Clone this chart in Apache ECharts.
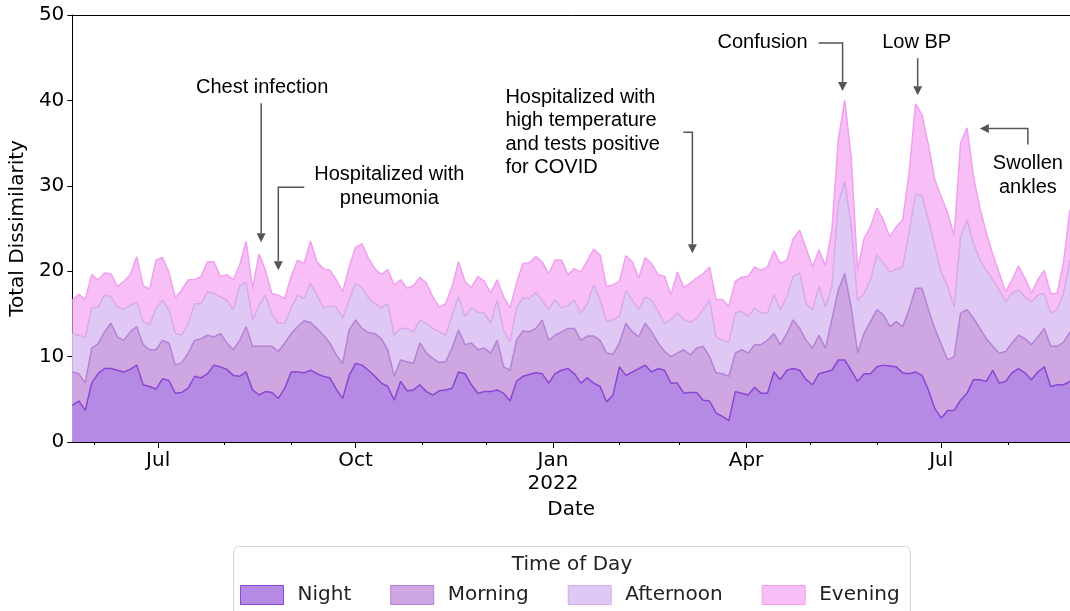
<!DOCTYPE html>
<html>
<head>
<meta charset="utf-8">
<title>Total Dissimilarity by Time of Day</title>
<script src="https://cdn.jsdelivr.net/npm/echarts@6/dist/echarts.min.js"></script>
<style>
  html, body { margin: 0; padding: 0; background: #fff; }
  #chart { width: 1070px; height: 611px; }
</style>
</head>
<body>
<div id="chart"></div>
<script>
// readings every 3 days from 2021-05-22,
// each array is the top edge of that band in the stack
var startDate = '2021-05-22';
var stepDays = 3;

var nightTop = [
  4.3, 4.8, 3.7, 6.9, 8.0, 8.6, 8.6, 8.4, 8.2, 8.5, 9.0, 6.7, 6.5,
  6.2, 7.4, 7.2, 5.7, 5.8, 6.3, 7.7, 7.5, 8.0, 9.0, 8.8, 8.5, 7.8,
  7.7, 8.2, 6.1, 5.5, 5.9, 5.8, 5.1, 6.3, 8.2, 8.2, 8.1, 8.4, 8.0,
  7.7, 7.5, 6.2, 5.1, 7.8, 9.2, 9.0, 8.4, 7.7, 6.9, 6.5, 4.9, 7.1,
  6.0, 6.1, 6.7, 5.9, 5.5, 6.0, 6.1, 6.3, 8.2, 8.0, 6.7, 5.7, 5.9,
  5.9, 6.1, 5.7, 4.8, 7.1, 7.7, 7.9, 8.1, 8.0, 6.9, 8.0, 8.4, 8.6,
  8.0, 6.9, 7.5, 6.9, 6.5, 4.7, 5.5, 8.8, 7.8, 8.2, 8.6, 9.0, 8.2,
  8.6, 8.4, 6.9, 6.9, 5.7, 5.8, 5.8, 4.9, 4.8, 3.4, 3.0, 2.5, 5.9,
  5.7, 5.5, 6.4, 5.7, 5.7, 8.2, 7.3, 8.4, 8.6, 8.4, 7.3, 6.7, 8.0,
  8.2, 8.4, 9.6, 9.6, 8.4, 7.1, 8.0, 8.0, 8.8, 9.0, 8.9, 8.8, 8.1,
  8.0, 8.2, 7.8, 6.1, 3.9, 2.8, 3.7, 3.7, 4.9, 5.7, 7.3, 7.3, 7.1,
  8.4, 6.9, 7.1, 8.1, 8.6, 8.1, 7.3, 8.2, 8.8, 6.5, 6.7, 6.7, 7.1
];
var morningTop = [
  8.2, 8.0, 6.9, 11.0, 11.5, 12.9, 13.9, 12.3, 11.9, 12.9, 13.5, 11.4, 10.8,
  10.8, 11.9, 11.6, 9.0, 9.3, 10.4, 11.9, 12.1, 12.5, 12.3, 12.7, 11.6, 10.8,
  11.9, 13.5, 11.2, 11.2, 11.2, 11.2, 10.6, 11.6, 12.7, 13.5, 14.2, 14.0, 13.3,
  12.5, 11.6, 10.2, 9.2, 13.1, 14.3, 13.3, 12.8, 12.7, 12.1, 10.8, 7.7, 9.6,
  9.4, 9.2, 11.6, 10.4, 9.8, 9.3, 9.4, 11.0, 13.1, 11.4, 11.6, 10.8, 11.0,
  10.4, 11.9, 8.8, 8.4, 11.9, 13.0, 12.9, 13.3, 14.3, 11.9, 12.5, 12.9, 13.3,
  13.3, 11.9, 12.4, 12.4, 11.9, 10.4, 10.3, 11.6, 13.9, 12.9, 12.3, 13.9, 12.9,
  11.6, 10.6, 10.0, 10.4, 10.8, 10.2, 11.0, 11.2, 10.0, 8.1, 8.0, 7.7, 10.4,
  10.8, 10.4, 11.4, 11.4, 11.9, 12.7, 11.4, 12.7, 14.3, 13.3, 11.9, 11.0, 12.5,
  11.0, 14.3, 17.8, 19.7, 15.8, 10.4, 12.7, 14.1, 15.5, 14.9, 13.5, 14.1, 13.5,
  15.5, 18.0, 18.0, 15.5, 13.3, 11.4, 9.6, 10.0, 15.1, 15.5, 14.5, 13.3, 12.1,
  11.2, 10.4, 10.6, 11.6, 12.5, 12.1, 11.4, 12.3, 13.3, 11.2, 11.2, 11.7, 12.9
];
var afternoonTop = [
  12.7, 12.5, 12.2, 15.7, 15.8, 17.2, 17.0, 15.8, 15.5, 16.0, 16.4, 14.1, 13.7,
  15.7, 16.6, 15.5, 12.7, 12.5, 13.9, 16.2, 16.2, 17.6, 17.4, 17.0, 16.6, 15.5,
  18.3, 18.7, 14.3, 16.0, 17.2, 15.0, 13.9, 13.9, 15.7, 17.2, 16.8, 18.6, 17.2,
  15.7, 15.9, 15.8, 14.5, 16.6, 18.6, 18.1, 16.9, 16.2, 15.7, 16.2, 12.5, 13.3,
  13.3, 12.9, 14.3, 13.9, 13.3, 12.9, 12.5, 14.9, 17.0, 14.7, 15.7, 15.2, 15.1,
  13.9, 16.6, 13.1, 11.7, 15.7, 16.9, 16.8, 17.5, 16.6, 15.5, 16.7, 15.7, 16.0,
  16.6, 15.1, 16.2, 18.4, 16.6, 14.1, 14.3, 14.7, 17.7, 16.6, 15.5, 17.0, 16.6,
  15.3, 13.9, 14.3, 15.1, 14.3, 14.0, 14.5, 15.5, 16.6, 12.3, 11.9, 11.7, 15.1,
  15.3, 14.7, 15.7, 15.1, 15.1, 17.2, 15.5, 17.0, 19.4, 19.8, 16.2, 15.5, 18.2,
  15.8, 18.2, 27.9, 30.5, 25.2, 16.6, 17.4, 19.0, 21.9, 21.0, 19.9, 20.2, 20.5,
  24.5, 29.0, 28.9, 26.0, 22.9, 19.8, 18.2, 15.8, 24.0, 26.0, 23.3, 21.3, 20.1,
  19.0, 17.8, 16.4, 17.4, 17.8, 17.0, 16.4, 17.2, 17.4, 15.1, 15.5, 17.4, 21.3
];
var eveningTop = [
  16.6, 17.3, 16.7, 19.6, 19.0, 19.8, 19.7, 18.2, 18.8, 19.6, 21.7, 18.3, 17.9,
  21.3, 21.6, 19.9, 16.9, 17.8, 19.0, 19.0, 19.4, 21.1, 21.1, 19.4, 19.6, 19.0,
  20.7, 23.5, 18.0, 22.0, 20.1, 17.4, 17.2, 16.8, 19.4, 21.3, 20.9, 23.5, 21.1,
  20.3, 20.1, 19.0, 17.6, 20.5, 22.8, 23.2, 21.5, 20.3, 19.6, 20.2, 18.4, 19.0,
  18.0, 18.3, 19.3, 18.6, 17.0, 15.8, 16.2, 18.2, 21.1, 18.8, 18.1, 19.4, 18.8,
  17.4, 19.0, 17.0, 15.7, 18.6, 20.9, 21.0, 21.7, 21.1, 19.7, 21.3, 21.3, 19.6,
  20.3, 19.9, 21.2, 22.6, 21.9, 18.2, 18.4, 18.8, 21.8, 21.1, 19.2, 21.6, 20.9,
  19.6, 19.4, 17.2, 19.9, 18.1, 18.6, 19.2, 19.7, 20.5, 16.7, 16.7, 15.9, 18.8,
  19.3, 19.4, 20.5, 20.1, 20.5, 22.4, 20.9, 21.3, 23.8, 24.8, 22.7, 20.5, 22.5,
  20.6, 24.8, 35.4, 40.0, 33.4, 20.1, 23.8, 25.2, 27.4, 26.0, 24.0, 25.2, 26.0,
  31.5, 39.6, 38.3, 34.8, 30.7, 28.7, 26.8, 24.2, 35.0, 36.8, 31.1, 27.4, 24.5,
  22.0, 19.8, 17.6, 19.0, 20.6, 19.2, 17.4, 19.0, 20.1, 17.4, 17.4, 21.1, 27.2
];

var seriesNames = ['Night', 'Morning', 'Afternoon', 'Evening'];
var xStart = '2021-05-22';
var xEnd = '2022-08-30';
var majorTickDates = ['2021-07-01', '2021-10-01', '2022-01-01', '2022-04-01', '2022-07-01'];
var majorTickLabels = ['Jul', 'Oct', 'Jan\n2022', 'Apr', 'Jul'];
var monthTickDates = [
  '2021-06-01', '2021-07-01', '2021-08-01', '2021-09-01', '2021-10-01', '2021-11-01',
  '2021-12-01', '2022-01-01', '2022-02-01', '2022-03-01', '2022-04-01', '2022-05-01',
  '2022-06-01', '2022-07-01', '2022-08-01'
];

// events, arrow tip given in data units, arrow path and label as pixel offsets from the tip
var notes = [
  {text: 'Chest infection', date: '2021-08-18', value: 23.4, path: [[0, -139]], label: [1, -155], align: 'center'},
  {text: 'Hospitalized with\npneumonia', date: '2021-08-26', value: 20.1, path: [[26, -83], [0, -83]], label: [111, -84], align: 'center'},
  {text: 'Hospitalized with\nhigh temperature\nand tests positive\nfor COVID', date: '2022-03-07', value: 22.1, path: [[-9, -121], [0, -121]], label: [-187, -121], align: 'left'},
  {text: 'Confusion', date: '2022-05-16', value: 41.1, path: [[-24, -48], [0, -48]], label: [-80, -49], align: 'center'},
  {text: 'Low BP', date: '2022-06-20', value: 40.6, path: [[0, -37]], label: [-1, -53], align: 'center'},
  {text: 'Swollen\nankles', date: '2022-07-19', value: 36.7, path: [[48, 16], [48, 0]], label: [48, 47], align: 'center'}
];

var fills = ['#b48ae4', '#cea6e2', '#dfc8f3', '#f8bef6'];
var edges = ['#8c46d2', '#b482d7', '#d7aaeb', '#f0a0f0'];
var axisFont = 'DejaVu Sans';
var noteFont = '20px "Liberation Sans", Arial, sans-serif';
var DAY = 86400000;

function ts(s) {
  var p = s.split('-');
  return Date.UTC(+p[0], +p[1] - 1, +p[2]);
}

var t0 = ts(startDate);
function toPairs(arr) {
  return arr.map(function (v, i) { return [t0 + i * stepDays * DAY, v]; });
}

var levels = [nightTop, morningTop, afternoonTop, eveningTop];
var majorTs = majorTickDates.map(ts);
var monthTs = monthTickDates.map(ts);
var xMin = ts(xStart), xMax = ts(xEnd);

var myChart = echarts.init(document.getElementById('chart'));

var series = seriesNames.map(function (name, i) {
  return {
    name: name,
    type: 'line',
    xAxisIndex: 0,
    yAxisIndex: 0,
    data: toPairs(levels[i]),
    showSymbol: false,
    symbol: 'none',
    silent: true,
    z: 5 - i,   // bands overlap, evening sits at the back
    itemStyle: {color: fills[i]},
    lineStyle: {color: edges[i], width: 1.5},
    areaStyle: {color: fills[i], opacity: 1}
  };
});

myChart.setOption({
  animation: false,
  grid: {left: 71, right: 0, top: 15, bottom: 169},
  xAxis: [
    {
      type: 'value', min: xMin, max: xMax, position: 'bottom',
      axisLine: {show: true, onZero: false, lineStyle: {color: '#000', width: 1}},
      axisTick: {show: true, customValues: majorTs, length: 6, lineStyle: {color: '#000'}},
      axisLabel: {
        customValues: majorTs, margin: 7, fontSize: 20, lineHeight: 23,
        fontFamily: axisFont, color: '#000',
        formatter: function (v) {
          for (var i = 0; i < majorTs.length; i++) {
            if (Math.abs(majorTs[i] - v) < DAY) return majorTickLabels[i];
          }
          return '';
        }
      },
      splitLine: {show: false},
      name: 'Date', nameLocation: 'middle', nameGap: 53,
      nameTextStyle: {fontSize: 20, fontFamily: axisFont, color: '#000'}
    },
    {
      // minor month ticks
      type: 'value', min: xMin, max: xMax, position: 'bottom',
      axisLine: {show: false, onZero: false},
      axisTick: {show: true, customValues: monthTs, length: 3, lineStyle: {color: '#000'}},
      axisLabel: {show: false},
      splitLine: {show: false}
    },
    {
      // top spine
      type: 'value', min: xMin, max: xMax, position: 'top',
      axisLine: {show: true, onZero: false, lineStyle: {color: '#000', width: 1}},
      axisTick: {show: false},
      axisLabel: {show: false},
      splitLine: {show: false}
    }
  ],
  yAxis: {
    type: 'value', min: 0, max: 50, interval: 10,
    axisLine: {show: true, lineStyle: {color: '#000', width: 1}},
    axisTick: {show: true, length: 5, lineStyle: {color: '#000'}},
    axisLabel: {fontSize: 20, fontFamily: axisFont, color: '#000', margin: 8},
    splitLine: {show: false},
    name: 'Total Dissimilarity', nameLocation: 'middle', nameGap: 33,
    nameTextStyle: {fontSize: 20, fontFamily: axisFont, color: '#000'}
  },
  legend: {
    left: 240, top: 585, padding: 0,
    orient: 'horizontal',
    icon: 'rect', itemWidth: 43, itemHeight: 19, itemGap: 39,
    selectedMode: false,
    textStyle: {fontSize: 20, fontFamily: axisFont, color: '#222', padding: [0, 0, 0, 9]},
    data: seriesNames.map(function (name, i) {
      return {
        name: name,
        itemStyle: {color: fills[i], borderColor: edges[i], borderWidth: 1}
      };
    })
  },
  series: series
});

// legend frame, title and event annotations
var elements = [
  {
    type: 'rect', id: 'legendBox', z: 1,
    shape: {x: 233.5, y: 546.5, width: 677, height: 90, r: 5},
    style: {fill: '#fff', stroke: '#d6d6d6', lineWidth: 1}
  },
  {
    type: 'text', id: 'legendTitle', z: 2,
    style: {
      text: 'Time of Day', x: 572, y: 565, align: 'center', verticalAlign: 'middle',
      font: '20px "DejaVu Sans"', fill: '#222'
    }
  }
];

notes.forEach(function (n, idx) {
  var tip = myChart.convertToPixel({xAxisIndex: 0, yAxisIndex: 0}, [ts(n.date), n.value]);
  var pts = n.path.map(function (o) { return [tip[0] + o[0], tip[1] + o[1]]; });
  var prev = pts[pts.length - 1];
  var dx = tip[0] - prev[0], dy = tip[1] - prev[1];
  var len = Math.sqrt(dx * dx + dy * dy);
  var ux = dx / len, uy = dy / len;
  var bx = tip[0] - ux * 9, by = tip[1] - uy * 9;
  elements.push({
    type: 'polyline', id: 'noteLine' + idx, z: 20,
    shape: {points: pts.concat([[bx, by]])},
    style: {stroke: '#555', lineWidth: 1.5, fill: null}
  });
  elements.push({
    type: 'polygon', id: 'noteHead' + idx, z: 20,
    shape: {points: [tip, [bx - uy * 4.5, by + ux * 4.5], [bx + uy * 4.5, by - ux * 4.5]]},
    style: {fill: '#555'}
  });
  elements.push({
    type: 'text', id: 'noteText' + idx, z: 20,
    style: {
      text: n.text, x: tip[0] + n.label[0], y: tip[1] + n.label[1],
      align: n.align, verticalAlign: 'middle', lineHeight: 23.5,
      font: noteFont, fill: '#000'
    }
  });
});

myChart.setOption({graphic: {elements: elements}});
</script>
</body>
</html>
